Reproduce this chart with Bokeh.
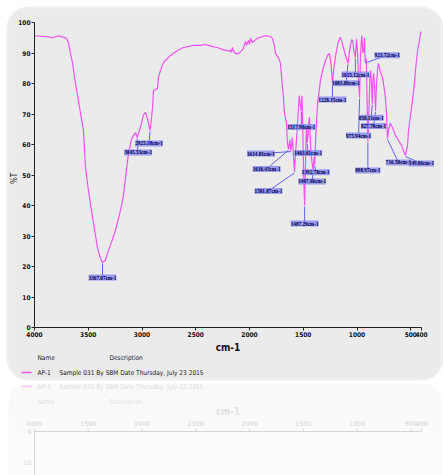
import numpy as np
from bokeh.plotting import figure
from bokeh.models import Range1d, LinearAxis, FixedTicker, LabelSet, ColumnDataSource
from bokeh.embed import file_html
from bokeh.resources import INLINE
from bokeh.core.properties import value

# ---- FT-IR spectrum of sample AP-1 (wavenumber in cm-1, transmittance in %T) ----
wavenumber = [
    4000, 3950, 3898, 3860, 3833, 3800, 3777, 3745, 3721, 3702, 3684, 3665, 3647, 3619,
    3591, 3572, 3544, 3526, 3498, 3460, 3414, 3386, 3367.07, 3340, 3321, 3284, 3247, 3200,
    3172, 3153, 3126, 3098, 3070, 3060, 3045.53, 3014, 2986, 2967, 2949, 2925.18, 2912, 2902,
    2893, 2874, 2856, 2847, 2828, 2800, 2735, 2670, 2614, 2521, 2456, 2409, 2381, 2344,
    2298, 2251, 2205, 2186, 2177, 2167, 2158, 2149, 2130, 2102, 2074, 2056, 2047, 2037,
    2028, 2009, 2000, 1991, 1972, 1953, 1926, 1879, 1842, 1805, 1786, 1767, 1758, 1730,
    1712, 1693, 1684, 1674, 1656, 1647, 1636.43, 1626, 1614.81, 1602, 1592, 1581.87, 1570, 1558,
    1548, 1538, 1530, 1524, 1517.90, 1512, 1505, 1496, 1487.29, 1480, 1474, 1470, 1463.61, 1455,
    1448, 1442, 1436, 1428, 1418, 1407.66, 1400, 1392.78, 1384, 1376, 1365, 1350, 1340, 1315,
    1293, 1270, 1256, 1240, 1228.15, 1215, 1195, 1175, 1155, 1135, 1110, 1083.80, 1070, 1050,
    1040, 1030, 1015.12, 1005, 995, 985, 975.94, 967, 955, 945, 938, 930, 923.72, 913,
    905, 898.97, 890, 880, 873, 865, 858.11, 850, 845, 835, 827.78, 818, 808, 800,
    785, 763, 745, 735, 725, 716.58, 705, 690, 670, 642, 614, 586, 567, 549.86,
    530, 521, 502, 484, 465, 456, 437, 419, 409, 400,
]
transmittance = [
    95.6, 95.5, 95.4, 95.2, 95.0, 95.4, 95.6, 95.3, 95.1, 94.8, 93.4, 89.8, 86.9, 80.0,
    74.4, 70.2, 64.6, 52.5, 44.9, 36.1, 26.2, 22.6, 21.3, 22.0, 24.3, 27.9, 31.8, 38.4,
    43.3, 49.2, 57.0, 61.6, 63.6, 63.9, 62.3, 65.6, 69.8, 70.5, 68.5, 64.6, 68.5, 72.0,
    77.7, 78.0, 78.4, 82.0, 84.3, 86.9, 89.2, 90.8, 91.8, 92.5, 92.5, 92.8, 92.5, 92.1,
    91.8, 91.1, 90.8, 90.5, 91.1, 90.2, 91.8, 90.8, 89.8, 89.8, 90.8, 91.5, 92.8, 93.8,
    92.5, 94.1, 92.8, 94.8, 93.4, 94.1, 94.8, 95.4, 95.7, 95.4, 94.8, 92.1, 89.8, 88.5,
    86.6, 78.7, 75.4, 70.2, 66.9, 60.3, 58.5, 61.5, 58.0, 62.3, 57.0, 51.0, 58.0, 64.0,
    70.0, 76.0, 74.0, 72.5, 71.0, 76.0, 66.0, 50.0, 40.0, 52.0, 62.0, 66.0, 60.5, 63.0,
    67.0, 69.0, 63.0, 57.0, 54.0, 51.5, 56.0, 53.5, 62.0, 68.0, 74.0, 78.0, 81.0, 85.0,
    87.5, 89.5, 89.8, 86.0, 80.0, 85.0, 90.0, 93.5, 95.2, 93.0, 89.5, 86.6, 90.5, 94.4,
    94.0, 91.0, 88.5, 94.5, 90.0, 80.0, 75.4, 90.0, 95.7, 90.0, 90.5, 95.0, 87.0, 88.0,
    72.0, 61.0, 70.0, 82.0, 84.3, 80.0, 73.4, 82.0, 83.3, 78.0, 71.0, 80.0, 85.0, 86.6,
    84.0, 82.0, 78.0, 75.0, 70.0, 62.0, 65.0, 67.0, 65.6, 63.0, 61.3, 59.7, 58.0, 56.4,
    59.7, 64.6, 69.5, 74.4, 80.3, 84.3, 90.8, 94.1, 96.4, 97.0,
]

# picked absorption bands (cm-1)
peaks = [3367.07, 3045.53, 2925.18, 1636.43, 1614.81, 1581.87, 1517.90, 1463.61,
         1407.66, 1392.78, 1487.29, 1228.15, 1083.80, 1015.12, 975.94, 923.72,
         898.97, 858.11, 827.78, 716.58, 549.86]

x_ticks = [4000, 3500, 3000, 2500, 2000, 1500, 1000, 500, 400]
y_ticks = list(range(0, 101, 10))

sample_name = "AP-1"
sample_desc = "Sample 031 By SBM Date Thursday, July 23 2015"

# ---- page geometry (pixels) ----
W, H = 443, 475
X0, KX = 34.0, 0.1075   # pixel column of 4000 cm-1, pixels per cm-1
Y0, KY = 327.0, 3.05    # pixel row of 0 %T, pixels per %T

def wn_at(px):
    return 4000 - (px - X0) / KX

def t_at(py):
    return (Y0 - py) / KY

def px_of(wn):
    return X0 + (4000 - wn) * KX

def py_of(t):
    return Y0 - t * KY

def rounded_rect(x0, y0, x1, y1, r, n=12):
    pts = []
    for cx, cy, a0 in [(x0 + r, y0 + r, 180), (x1 - r, y0 + r, 270),
                       (x1 - r, y1 - r, 0), (x0 + r, y1 - r, 90)]:
        for a in np.linspace(np.radians(a0), np.radians(a0 + 90), n):
            pts.append((cx + r * np.cos(a), cy + r * np.sin(a)))
    return [wn_at(x) for x, _ in pts], [t_at(y) for _, y in pts]

COND = "DejaVu Sans Condensed"
LINE = "#f252f2"

p = figure(width=W, height=H,
           x_range=Range1d(wn_at(0), wn_at(W)), y_range=Range1d(t_at(H), t_at(0)),
           x_axis_type=None, y_axis_type=None, toolbar_location=None,
           output_backend="svg", min_border=0, outline_line_color=None,
           background_fill_color="white", border_fill_color="white")
p.grid.visible = False

# card and its reflection
sx, sy = rounded_rect(6, 6, 443, 380, 22)
p.patch(sx, sy, fill_color="#dcdcdc", fill_alpha=0.45, line_color=None)
cx, cy = rounded_rect(8, 8, 441, 378, 20)
p.patch(cx, cy, fill_color="#ebebeb", line_color=None)
rx, ry = rounded_rect(8, 383, 441, 560, 20)
p.patch(rx, ry, fill_color="#eeeeee", fill_alpha=0.35, line_color=None)
bands = np.linspace(400, H, 8)
for i in range(len(bands) - 1):
    p.quad(left=wn_at(8), right=wn_at(441), top=t_at(bands[i]), bottom=t_at(bands[i + 1]),
           fill_color="white", fill_alpha=0.08 * (i + 1), line_color=None)

# spectrum
p.line(wavenumber, transmittance, line_color=LINE, line_width=1.2)

# peak markers: leader line + label
label_offset_px = [(0, 15), (1, 15), (-1, 13), (-22, 20), (-30, 3), (-26, 19), (0, 16),
                   (1, 10), (-1, 11), (1, 8), (0, 18), (0, 16), (-2, 20), (0, 17),
                   (-1, 38), (22, -7), (0, 29), (-1, 14), (-2, 15), (11, 24), (16, 8)]
peak_t = np.interp(peaks, wavenumber[::-1], transmittance[::-1])
lx = [wn_at(px_of(w) + d[0]) for w, d in zip(peaks, label_offset_px)]
ly = [t_at(py_of(t) + d[1]) for t, d in zip(peak_t, label_offset_px)]
src = ColumnDataSource(dict(
    x=peaks, y=[t - 1.0 / KY for t in peak_t], lx=lx, ly=ly,
    text=[f"{w:.2f}cm-1" for w in peaks]))
p.segment(x0="x", y0="y", x1="lx", y1="ly", source=src, line_color="#6262f2", line_width=1)
p.add_layout(LabelSet(x="lx", y="ly", text="text", source=src,
                      text_font=COND, text_font_style="bold", text_font_size="5.2px",
                      text_color="#000048", text_align="center", text_baseline="middle",
                      background_fill_color="#8c8cee", background_fill_alpha=0.85))

# axes
yaxis = LinearAxis(fixed_location=4000, bounds=(0, 100), ticker=FixedTicker(ticks=y_ticks))
xaxis = LinearAxis(fixed_location=0, bounds=(400, 4000), ticker=FixedTicker(ticks=x_ticks))
for ax in (xaxis, yaxis):
    ax.axis_line_color = "#222222"
    ax.axis_line_width = 1
    ax.major_tick_line_color = "#222222"
    ax.major_tick_out = 3
    ax.major_tick_in = 0
    ax.minor_tick_out = 0
    ax.minor_tick_in = 0
    ax.major_label_text_font = COND
    ax.major_label_text_font_style = "bold"
    ax.major_label_text_font_size = "6.5px"
    ax.major_label_text_color = "#111111"
    ax.major_label_standoff = 1
p.add_layout(yaxis, "left")
p.add_layout(xaxis, "below")

p.text(x=[2200], y=[t_at(347)], text=["cm-1"], text_font=value(COND),
       text_font_style="bold", text_font_size="10px", text_color="#111111",
       text_align="center", text_baseline="middle")
p.text(x=[wn_at(14)], y=[t_at(178)], text=["%T"], text_font=value(COND),
       text_font_size="8px", text_color="#222222", angle=np.pi / 2,
       text_align="center", text_baseline="middle")

# sample legend
legend_font = dict(text_font=value(COND), text_font_size="6.5px", text_baseline="middle")
p.text(x=[wn_at(37), wn_at(109)], y=[t_at(357)] * 2, text=["Name", "Description"],
       text_color="#1a1a40", **legend_font)
p.line([wn_at(21), wn_at(31)], [t_at(372)] * 2, line_color=LINE, line_width=1.5)
p.text(x=[wn_at(37), wn_at(59)], y=[t_at(372)] * 2, text=[sample_name, sample_desc],
       text_color="#202020", **legend_font)

# reflection of the lower part of the card, mirrored about the card's bottom edge
T_M = t_at(379)

def mirror(t):
    return 2 * T_M - t

p.line([wn_at(21), wn_at(31)], [mirror(t_at(372))] * 2, line_color=LINE,
       line_width=1.5, line_alpha=0.3)
p.text(x=[wn_at(37), wn_at(59)], y=[mirror(t_at(372))] * 2, text=[sample_name, sample_desc],
       text_color="#b8b8b8", text_alpha=0.45, **legend_font)
p.text(x=[wn_at(37), wn_at(109)], y=[mirror(t_at(357))] * 2, text=["Name", "Description"],
       text_color="#b8b8b8", text_alpha=0.4, **legend_font)
p.text(x=[2200], y=[mirror(t_at(347))], text=["cm-1"], text_font=value(COND),
       text_font_style="bold", text_font_size="10px", text_color="#c8c8c8", text_alpha=0.5,
       text_align="center", text_baseline="middle")
p.text(x=x_ticks, y=[mirror(t_at(335))] * len(x_ticks), text=[str(t) for t in x_ticks],
       text_font=value(COND), text_font_style="bold", text_font_size="6.5px",
       text_color="#c8c8c8", text_alpha=0.5, text_align="center", text_baseline="middle")
p.line([4000, 400], [mirror(0)] * 2, line_color="#c8c8c8", line_alpha=0.7)
p.segment(x0=x_ticks, y0=[mirror(0)] * len(x_ticks), x1=x_ticks,
          y1=[mirror(0) + 3 / KY] * len(x_ticks), line_color="#c8c8c8", line_alpha=0.7)
p.line([4000, 4000], [mirror(0), t_at(H)], line_color="#c8c8c8", line_alpha=0.6)
p.text(x=[wn_at(31)] * 2, y=[mirror(0), mirror(10)], text=["0", "10"],
       text_font=value(COND), text_font_style="bold", text_font_size="6.5px",
       text_color="#c8c8c8", text_alpha=0.5, text_align="right", text_baseline="middle")

open("out.html", "w").write(file_html(p, INLINE))
